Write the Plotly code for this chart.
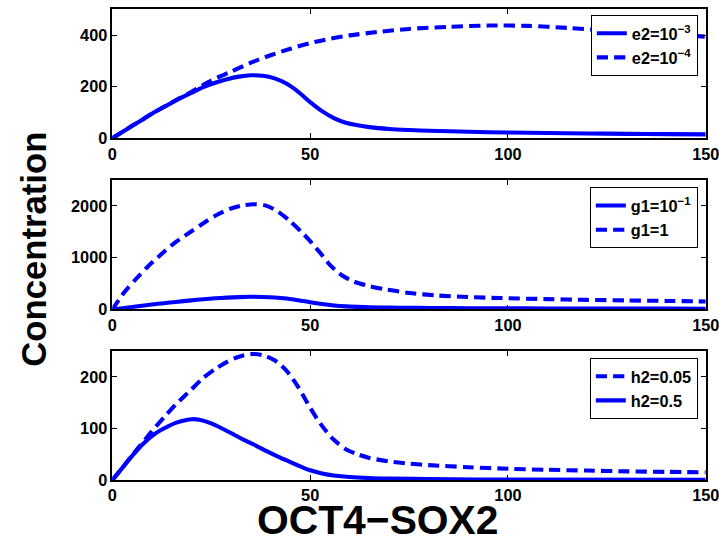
import plotly.graph_objects as go

# ---- data ----
x_base = [0, 2, 5, 8, 10, 13, 16, 20, 23, 26, 29, 32, 35, 38, 41, 44, 47, 50, 53, 56, 59, 62, 65, 70, 75, 80, 90, 100, 110, 120, 130, 140, 150]
y_base = [0, 19, 48, 76, 95, 121, 146, 176, 198, 215, 229, 239, 244, 242, 232, 212, 180, 140, 105, 78, 60, 50, 43, 36, 32, 29, 25, 22, 20, 18.5, 17, 16, 15]

x_e2b = [0, 2, 5, 8, 10, 13, 16, 20, 25, 30, 35, 40, 45, 50, 55, 60, 67, 75, 85, 95, 105, 115, 125, 135, 150]
y_e2b = [0, 19, 48, 76, 95, 121, 147, 180, 224, 258, 293, 322, 347, 369, 386, 399, 412, 424, 432, 437, 436, 428, 418, 408, 394]

x_g1b = [0, 3, 6, 9, 13, 16, 20, 23, 26, 30, 33, 36, 39, 42, 45, 48, 50, 53, 55, 58, 61, 65, 69, 75, 82, 90, 98, 110, 120, 130, 140, 150]
y_g1b = [0, 330, 590, 830, 1110, 1300, 1510, 1665, 1810, 1950, 2010, 2030, 2000, 1880, 1700, 1480, 1320, 1050, 860, 660, 540, 450, 387, 320, 271, 240, 220, 200, 185, 175, 165, 155]

x_h2b = [0, 3, 5, 8, 11, 13, 16, 19, 20, 22, 25, 28, 31, 33, 36, 39, 42, 45, 48, 50, 53, 56, 60, 65, 70, 80, 100, 150]
y_h2b = [0, 28, 47, 72, 91, 100, 111, 117, 118, 117, 110, 99, 87, 79, 68, 56, 45, 35, 25, 19, 13, 9, 6, 4, 3, 2, 1, 0.5]

x_ticks = [0, 50, 100, 150]
y_ticks_1 = [0, 200, 400]
y_ticks_2 = [0, 1000, 2000]
y_ticks_3 = [0, 100, 200]
y_ranges = [[0, 500], [0, 2500], [0, 250]]

# ---- layout geometry (target screen pixels) ----
SC = 1 / 0.98          # compensate for the capture's down-scaling
W, H = round(719 * SC), round(542 * SC)
left_px, right_px = 108, 705
panels_px = [(9.3, 137.7), (179.3, 308.3), (349.7, 478.3)]
legend_tops = [15, 186.7, 356.7]
legend_right = 697

def fx(px):
    return px * SC / W

def fy(py):
    return (H - py * SC) / H

def sz(v):
    return v * SC

BLUE = "#0000FF"
FONT = "Liberation Sans, Arial, Helvetica, sans-serif"
DASH = f"{sz(11):.1f}px,{sz(6):.1f}px"
LW = sz(4)

fig = go.Figure()

def add(x, y, name, dash, idx):
    fig.add_trace(go.Scatter(
        x=x, y=y, mode="lines", name=name,
        line=dict(color=BLUE, width=LW, dash=dash, shape="spline", smoothing=0.8),
        xaxis="x" if idx == 1 else f"x{idx}",
        yaxis="y" if idx == 1 else f"y{idx}",
        legend="legend" if idx == 1 else f"legend{idx}",
    ))

add(x_base, y_base, "e2=10<sup>−3</sup>", "solid", 1)
add(x_e2b, y_e2b, "e2=10<sup>−4</sup>", DASH, 1)
add(x_base, y_base, "g1=10<sup>−1</sup>", "solid", 2)
add(x_g1b, y_g1b, "g1=1", DASH, 2)
add(x_base, y_base, "h2=0.05", DASH, 3)
add(x_h2b, y_h2b, "h2=0.5", "solid", 3)

tickfont = dict(family=FONT, size=sz(16), color="black", weight="bold")
layout = dict(
    width=W, height=H,
    margin=dict(l=0, r=0, t=0, b=0),
    paper_bgcolor="white", plot_bgcolor="white",
    showlegend=True,
)
yticks_all = [y_ticks_1, y_ticks_2, y_ticks_3]
for i, (top, bot) in enumerate(panels_px, start=1):
    sfx = "" if i == 1 else str(i)
    layout[f"xaxis{sfx}"] = dict(
        domain=[fx(left_px), fx(right_px)],
        range=[0, 150], tickvals=x_ticks,
        ticks="inside", ticklen=sz(5), tickcolor="black", tickwidth=1,
        showline=True, linecolor="black", linewidth=sz(1.5), mirror="ticks",
        showgrid=False, zeroline=False, tickfont=tickfont,
        anchor=f"y{sfx}",
    )
    layout[f"yaxis{sfx}"] = dict(
        domain=[fy(bot), fy(top)],
        range=y_ranges[i - 1], tickvals=yticks_all[i - 1],
        ticks="inside", ticklen=sz(5), tickcolor="black", tickwidth=1,
        showline=True, linecolor="black", linewidth=sz(1.5), mirror="ticks",
        showgrid=False, zeroline=False, tickfont=tickfont,
        anchor=f"x{sfx}",
    )
    layout[f"legend{sfx}"] = dict(
        x=fx(legend_right), y=fy(legend_tops[i - 1]),
        xanchor="right", yanchor="top",
        bgcolor="white", bordercolor="black", borderwidth=1,
        font=dict(family=FONT, size=sz(16), color="black", weight="bold"),
        tracegroupgap=0, itemwidth=30,
    )

fig.update_layout(**layout)

fig.add_annotation(text="<b>Concentration</b>", x=fx(29), y=fy(248),
                   xref="paper", yref="paper", showarrow=False, textangle=-90,
                   font=dict(family=FONT, size=sz(34), color="black"),
                   xanchor="center", yanchor="middle")
fig.add_annotation(text="<b>OCT4−SOX2</b>", x=fx(497), y=fy(518.5),
                   xref="paper", yref="paper", showarrow=False,
                   font=dict(family=FONT, size=sz(40), color="black"),
                   xanchor="right", yanchor="middle", borderpad=0)

fig.write_html(
    "out.html",
    config={"displayModeBar": False},
    post_script="document.body.style.margin='0';document.body.style.overflow='hidden';",
)
